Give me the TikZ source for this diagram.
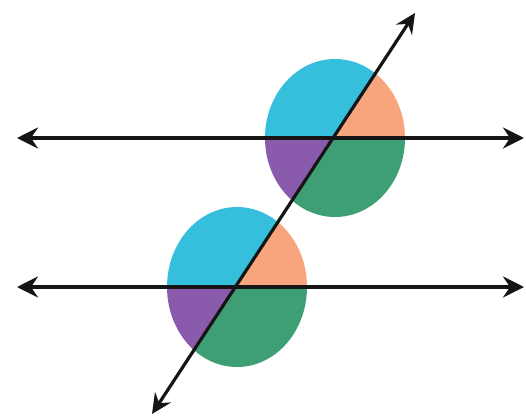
\documentclass[tikz,border=0pt]{standalone}
\usetikzlibrary{arrows.meta}
\definecolor{sectcyan}{HTML}{35BFDC}
\definecolor{sectorange}{HTML}{F8A47C}
\definecolor{sectpurple}{HTML}{8A5BAD}
\definecolor{sectgreen}{HTML}{3E9F74}
\definecolor{linecol}{HTML}{151515}
\tikzset{
  parline/.style={draw=linecol, line width=4.6pt, {Stealth[length=21pt,width=21pt,inset=7pt]}-{Stealth[length=21pt,width=21pt,inset=7pt]}},
  transline/.style={draw=linecol, line width=3.2pt, {Stealth[length=20pt,width=19pt,inset=7pt]}-{Stealth[length=20pt,width=19pt,inset=7pt]}},
}
\begin{document}
\begin{tikzpicture}[x=1pt,y=-1pt]
\useasboundingbox (0,0) rectangle (526,418);
\fill[white] (0,0) rectangle (526,418);
\coordinate (P) at (335,138);
\coordinate (Q) at (237,287);
\foreach \c/\rx/\ry in {P/70/79, Q/70/80}{
  \begin{scope}
    \clip (\c) ellipse [x radius=\rx, y radius=\ry];
    \fill[sectcyan] (\c) -- ++(98,-149) -- ++(-298,0) -- ++(0,149) -- cycle;
    \fill[sectorange] (\c) -- ++(98,-149) -- ++(102,0) -- ++(0,149) -- cycle;
    \fill[sectpurple] (\c) -- ++(-98,149) -- ++(-102,0) -- ++(0,-149) -- cycle;
    \fill[sectgreen] (\c) -- ++(-98,149) -- ++(298,0) -- ++(0,-149) -- cycle;
  \end{scope}
}
\coordinate (L1) at (17,138);
\coordinate (R1) at (524,138);
\coordinate (L2) at (17,287);
\coordinate (R2) at (524,287);
\coordinate (T) at (415,13);
\coordinate (B) at (152,414);
\draw[parline] (L1) -- (R1);
\draw[parline] (L2) -- (R2);
\draw[transline] (B) -- (T);
\end{tikzpicture}
\end{document}
